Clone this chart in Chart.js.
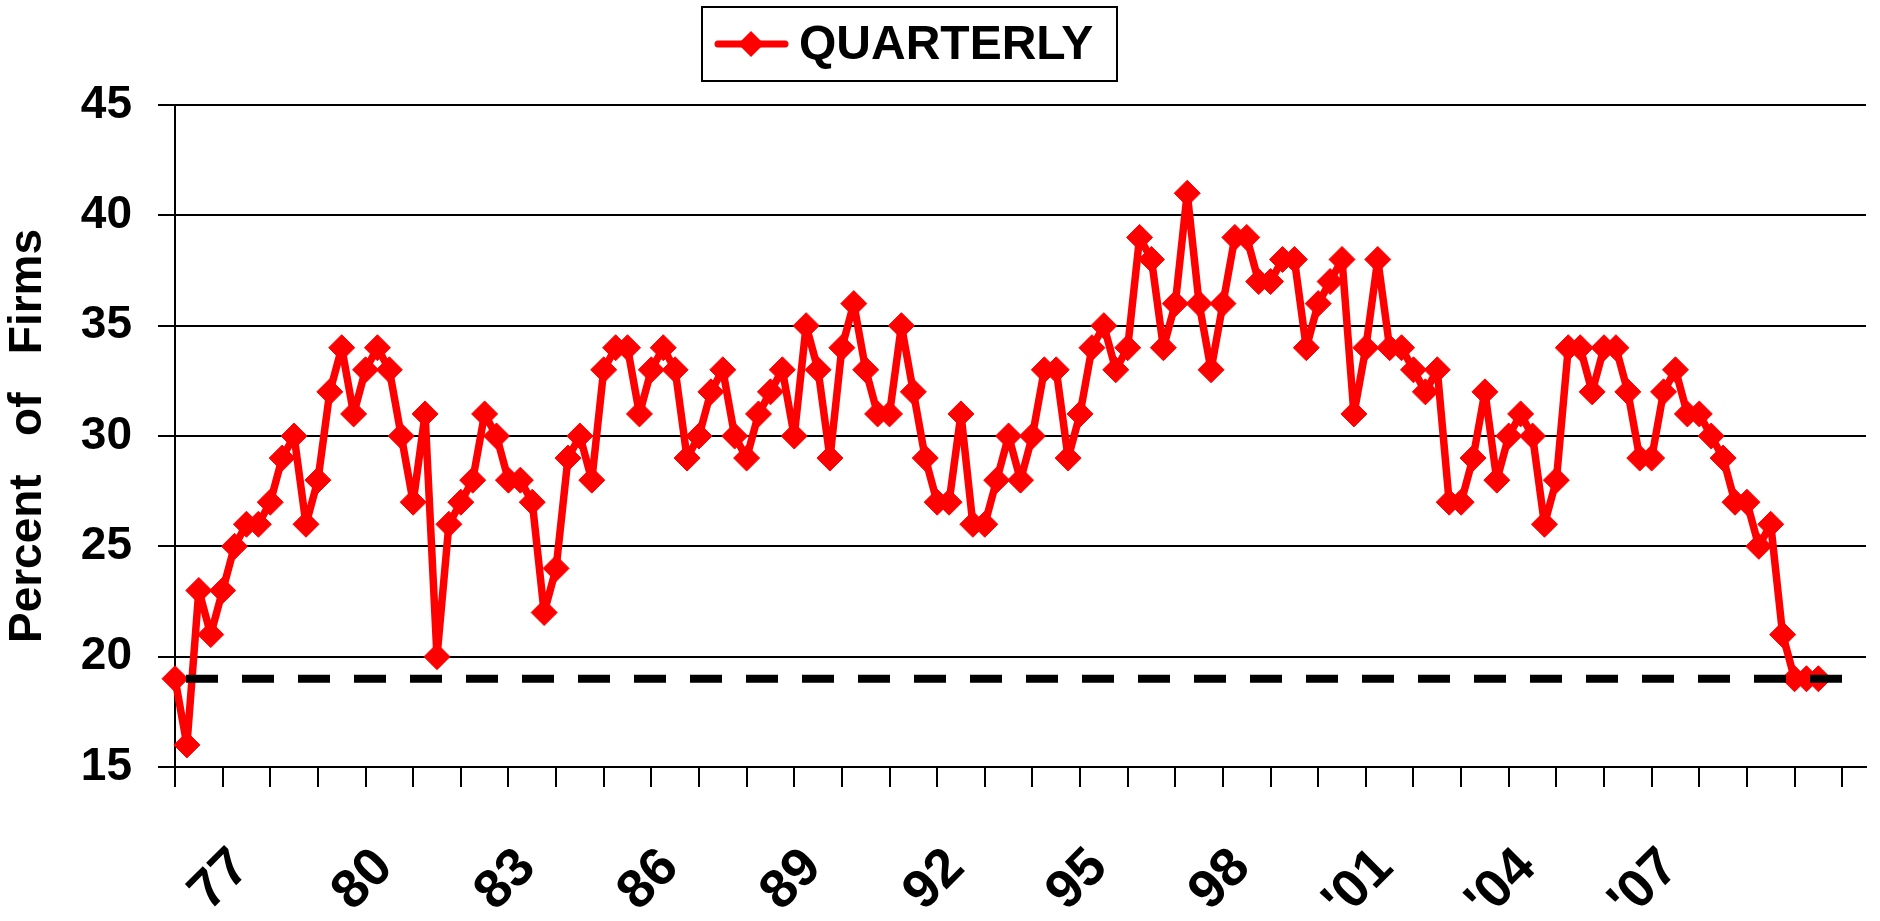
<!DOCTYPE html>
<html>
<head>
<meta charset="utf-8">
<title>Quarterly percent of firms</title>
<script src="https://cdn.jsdelivr.net/npm/chart.js@4.4.1/dist/chart.umd.min.js"></script>
<style>
  html, body { margin: 0; padding: 0; background: #fff; }
  canvas { display: block; }
</style>
</head>
<body>
<canvas id="chart" width="1880" height="921"></canvas>
<script>
// first quarter shown and number of quarter slots on the axis
const startYear = 1975;
const startQuarter = 3;
const slotCount = 143;

// quarterly readings, percent of firms
const quarterly = [
  19, 16, 23, 21, 23, 25, 26, 26, 27, 29, 30, 26, 28, 32, 34, 31, 33, 34, 33, 30,
  27, 31, 20, 26, 27, 28, 31, 30, 28, 28, 27, 22, 24, 29, 30, 28, 33, 34, 34, 31,
  33, 34, 33, 29, 30, 32, 33, 30, 29, 31, 32, 33, 30, 35, 33, 29, 34, 36, 33, 31,
  31, 35, 32, 29, 27, 27, 31, 26, 26, 28, 30, 28, 30, 33, 33, 29, 31, 34, 35, 33,
  34, 39, 38, 34, 36, 41, 36, 33, 36, 39, 39, 37, 37, 38, 38, 34, 36, 37, 38, 31,
  34, 38, 34, 34, 33, 32, 33, 27, 27, 29, 32, 28, 30, 31, 30, 26, 28, 34, 34, 32,
  34, 34, 32, 29, 29, 32, 33, 31, 31, 30, 29, 27, 27, 25, 26, 21, 19, 19, 19
];

// dashed reference level
const threshold = 19;

// labelled years on the x axis (placed at Q1)
const labelYears = [1977, 1980, 1983, 1986, 1989, 1992, 1995, 1998, 2001, 2004, 2007];
const labelText = ['77', '80', '83', '86', '89', '92', '95', '98', "'01", "'04", "'07"];

const yMin = 15, yMax = 45, yStep = 5;

const RED = '#ff0000';
const FONT = "'Liberation Sans', Arial, Helvetica, sans-serif";

// quarter categories
const quarters = [];
for (let i = 0; i < slotCount; i++) {
  const q = (startQuarter - 1 + i) % 4 + 1;
  const y = startYear + Math.floor((startQuarter - 1 + i) / 4);
  quarters.push({ year: y, q: q, label: y + ' Q' + q });
}

const refLine = {
  id: 'refLine',
  afterDatasetsDraw(chart) {
    const { ctx, chartArea } = chart;
    const y = chart.scales.y.getPixelForValue(threshold);
    ctx.save();
    ctx.strokeStyle = '#000';
    ctx.lineWidth = 8;
    ctx.setLineDash([32, 24]);
    ctx.lineDashOffset = 45;
    ctx.beginPath();
    ctx.moveTo(chartArea.left, y);
    ctx.lineTo(chartArea.right, y);
    ctx.stroke();
    ctx.restore();
  }
};

// boxed legend with line + diamond sample
const legendBox = {
  id: 'legendBox',
  afterDraw(chart) {
    const ctx = chart.ctx;
    ctx.save();
    ctx.strokeStyle = '#000';
    ctx.lineWidth = 2;
    ctx.strokeRect(702, 7, 415, 74);

    ctx.strokeStyle = RED;
    ctx.lineWidth = 7;
    ctx.lineCap = 'round';
    ctx.beginPath();
    ctx.moveTo(718, 44);
    ctx.lineTo(785, 44);
    ctx.stroke();

    ctx.fillStyle = RED;
    ctx.beginPath();
    ctx.moveTo(751, 31);
    ctx.lineTo(764, 44);
    ctx.lineTo(751, 57);
    ctx.lineTo(738, 44);
    ctx.closePath();
    ctx.fill();

    ctx.fillStyle = '#000';
    ctx.font = 'bold 48px ' + FONT;
    ctx.textBaseline = 'middle';
    ctx.textAlign = 'left';
    ctx.fillText(chart.data.datasets[0].label, 799, 46);
    ctx.restore();
  }
};

new Chart(document.getElementById('chart').getContext('2d'), {
  type: 'line',
  data: {
    labels: quarters.map(q => q.label),
    datasets: [{
      label: 'QUARTERLY',
      data: quarterly,
      borderColor: RED,
      borderWidth: 7.5,
      borderJoinStyle: 'round',
      tension: 0,
      pointStyle: 'rectRot',
      pointRadius: 13,
      pointBackgroundColor: RED,
      pointBorderColor: RED,
      pointBorderWidth: 1,
      clip: false
    }]
  },
  options: {
    responsive: false,
    animation: false,
    devicePixelRatio: 1,
    layout: { padding: { top: 105, right: 0, bottom: 0, left: 0 } },
    plugins: {
      legend: { display: false },
      tooltip: { enabled: false }
    },
    scales: {
      x: {
        type: 'category',
        grid: {
          drawOnChartArea: false,
          tickLength: 20,
          lineWidth: 2,
          color: (c) => (c.index % 4 === 0 ? '#000' : 'rgba(0,0,0,0)')
        },
        border: { color: '#000', width: 2 },
        ticks: {
          autoSkip: false,
          minRotation: 45,
          maxRotation: 45,
          padding: 49,
          labelOffset: -5,
          color: '#000',
          font: { family: FONT, size: 54, weight: 'bold' },
          callback: (v, i) => {
            const q = quarters[i];
            if (!q || q.q !== 1) return '';
            const k = labelYears.indexOf(q.year);
            return k >= 0 ? labelText[k] : '';
          }
        },
        afterFit: (s) => {
          s.height = 154;
          s.paddingLeft = 0;
          s.paddingRight = 0;
        }
      },
      y: {
        min: yMin,
        max: yMax,
        grid: { color: '#000', lineWidth: 2, tickLength: 17 },
        border: { color: '#000', width: 2 },
        ticks: {
          stepSize: yStep,
          padding: 26,
          color: '#000',
          font: { family: FONT, size: 46, weight: 'bold' }
        },
        title: {
          display: true,
          text: 'Percent   of   Firms',
          color: '#000',
          font: { family: FONT, size: 46, weight: 'bold' },
          padding: { top: 1, bottom: 0 }
        },
        afterFit: (s) => { s.width = 175; }
      }
    }
  },
  plugins: [refLine, legendBox]
});
</script>
</body>
</html>
